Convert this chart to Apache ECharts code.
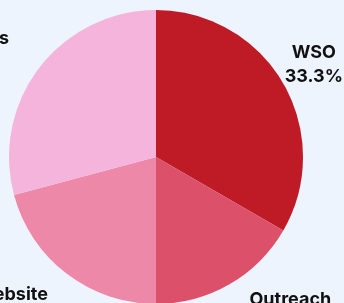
<!DOCTYPE html>
<html>
<head>
<meta charset="utf-8">
<style>
  html, body { margin: 0; padding: 0; background: #eef4fd; }
  #chart { width: 344px; height: 303px; }
</style>
<script src="https://cdn.jsdelivr.net/npm/echarts@6/dist/echarts.min.js"></script>
</head>
<body>
<div id="chart"></div>
<script>
var categories = ["WSO", "Outreach", "Website", "Workshops"];
var counts = [8, 4, 5, 7];
var colors = ["#bf1b27", "#dc506a", "#ee88a9", "#f5b4db"];

// per-slice label nudges (line length / second segment)
var labelTweaks = [
  null,
  { length: 32, length2: 3 },
  { length: 42, length2: -8 },
  { length: 27, length2: 8 }
];

var chart = echarts.init(document.getElementById("chart"));

var seriesData = categories.map(function (name, i) {
  var item = { name: name, value: counts[i], itemStyle: { color: colors[i] } };
  if (i === 0) {
    // WSO label sits against the right edge, lines centred
    item.label = { alignTo: "edge", edgeDistance: 1 };
  }
  if (labelTweaks[i]) {
    item.labelLine = { show: false, length: labelTweaks[i].length, length2: labelTweaks[i].length2 };
  }
  return item;
});

var textStyle = {
  fontFamily: "Inter",
  fontWeight: 700,
  fontSize: 18,
  lineHeight: 24,
  color: "#111111",
  align: "center"
};

chart.setOption({
  backgroundColor: "#eef4fd",
  animation: false,
  series: [
    {
      name: "Share",
      type: "pie",
      center: [156, 157],
      radius: 147,
      startAngle: 90,
      clockwise: true,
      percentPrecision: 1,
      avoidLabelOverlap: false,
      silent: true,
      itemStyle: { borderWidth: 0 },
      label: {
        show: true,
        position: "outside",
        distanceToLabelLine: 1,
        formatter: "{name|{b}}\n{pct|{d}%}",
        rich: { name: textStyle, pct: textStyle }
      },
      labelLine: { show: false, length: 37, length2: 0 },
      data: seriesData
    }
  ]
});
</script>
</body>
</html>
